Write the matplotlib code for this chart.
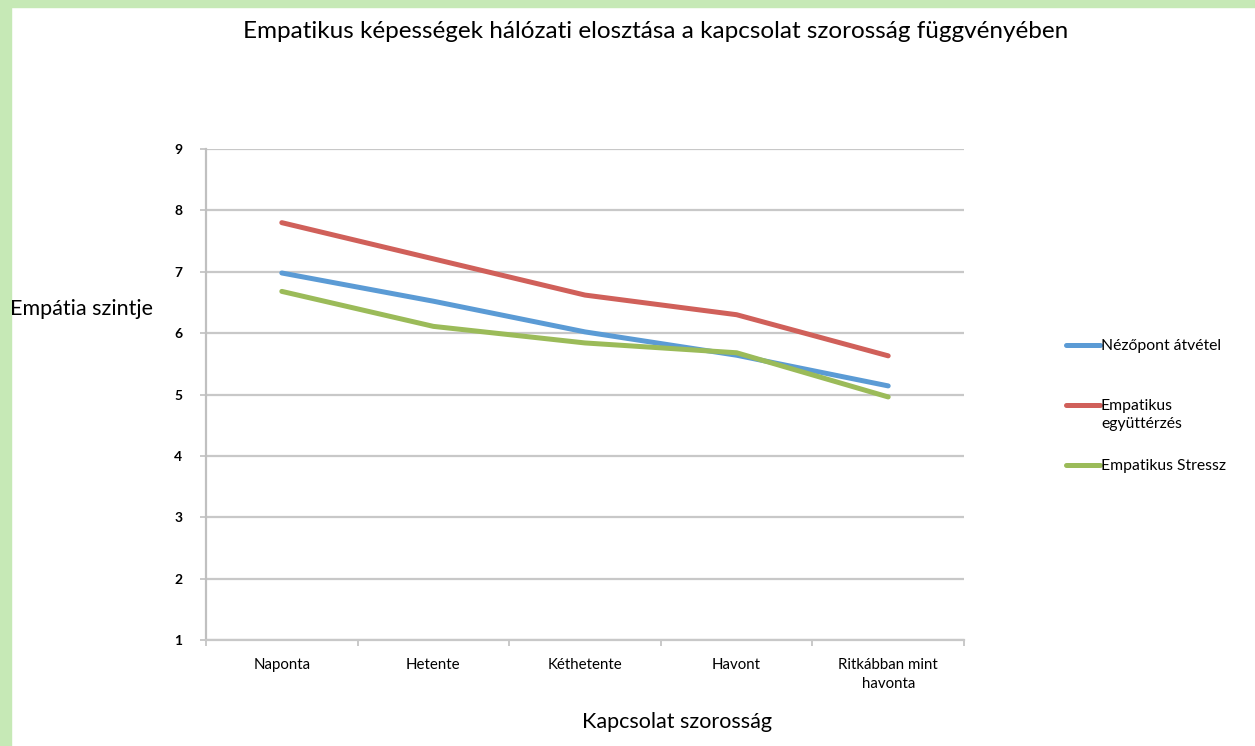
import matplotlib
matplotlib.use('Agg')
import matplotlib.pyplot as plt
from matplotlib.lines import Line2D
from matplotlib.patches import Rectangle
import numpy as np

categories = ['Naponta', 'Hetente', 'Kéthetente', 'Havont', 'Ritkábban mint\nhavonta']
nezopont = [6.98, 6.52, 6.02, 5.64, 5.14]
egyutterzes = [7.80, 7.21, 6.62, 6.30, 5.63]
stressz = [6.68, 6.11, 5.84, 5.68, 4.96]

series = [
    ('Nézőpont átvétel', nezopont, '#5b9bd5'),
    ('Empatikus\negyüttérzés', egyutterzes, '#d0605a'),
    ('Empatikus Stressz', stressz, '#9bbb59'),
]

plt.rcParams['font.family'] = ['Lato', 'DejaVu Sans']

fig = plt.figure(figsize=(12.55, 7.46), dpi=100)
fig.patch.set_facecolor('white')

# green frame at the left and top edges
fig.add_artist(Rectangle((0, 0), 11 / 1255, 1, transform=fig.transFigure,
                         color='#c6e9b6', zorder=0))
fig.add_artist(Rectangle((0, 1 - 7 / 746), 1, 7 / 746, transform=fig.transFigure,
                         color='#c6e9b6', zorder=0))

ax = fig.add_axes([206 / 1255, 1 - 640 / 746, (964 - 206) / 1255, (640 - 149) / 746])

x = np.arange(len(categories))
for label, vals, color in series:
    ax.plot(x, vals, color=color, linewidth=3.6, solid_capstyle='round',
            solid_joinstyle='round', label=label, zorder=3)

ax.set_xlim(-0.5, len(categories) - 0.5)
ax.set_ylim(1, 9)
ax.set_yticks(range(1, 10))
ax.yaxis.grid(True, color='#c8c8c8', linewidth=1.6)
ax.set_axisbelow(True)

for side in ['top', 'right']:
    ax.spines[side].set_visible(False)
ax.spines['left'].set_color('#c0c0c0')
ax.spines['left'].set_linewidth(1.6)
ax.spines['bottom'].set_color('#c8c8c8')
ax.spines['bottom'].set_linewidth(1.6)

ax.set_xticks(x)
ax.set_xticklabels(categories, fontsize=10.8, linespacing=1.45)
ax.set_xticks(np.arange(-0.5, len(categories)), minor=True)
ax.tick_params(axis='x', which='major', length=0, pad=13)
ax.tick_params(axis='x', which='minor', length=4, color='#c0c0c0', width=1.2)
ax.tick_params(axis='y', length=4, color='#c0c0c0', width=1.2, labelsize=10, pad=13)
for t in ax.get_yticklabels():
    t.set_fontweight('bold')

fig.text(656 / 1255, 1 - 32 / 746, 'Empatikus képességek hálózati elosztása a kapcsolat szorosság függvényében',
         ha='center', va='center', fontsize=17.5)
fig.text(10 / 1255, 1 - 309 / 746, 'Empátia szintje', ha='left', va='center', fontsize=15.5)
fig.text(677 / 1255, 1 - 722 / 746, 'Kapcsolat szorosság', ha='center', va='center', fontsize=15.5)

# legend drawn to the right of the plot
legend_y = [345, 405, 465]
for (label, vals, color), ly in zip(series, legend_y):
    fy = 1 - ly / 746
    fig.add_artist(Line2D([1066 / 1255, 1100 / 1255], [fy, fy], transform=fig.transFigure,
                          color=color, linewidth=3.6, solid_capstyle='round'))
    fig.text(1101 / 1255, fy + 6 / 746, label, ha='left', va='top', fontsize=11.3,
             linespacing=1.35)

fig.savefig('out.png', dpi=100)
